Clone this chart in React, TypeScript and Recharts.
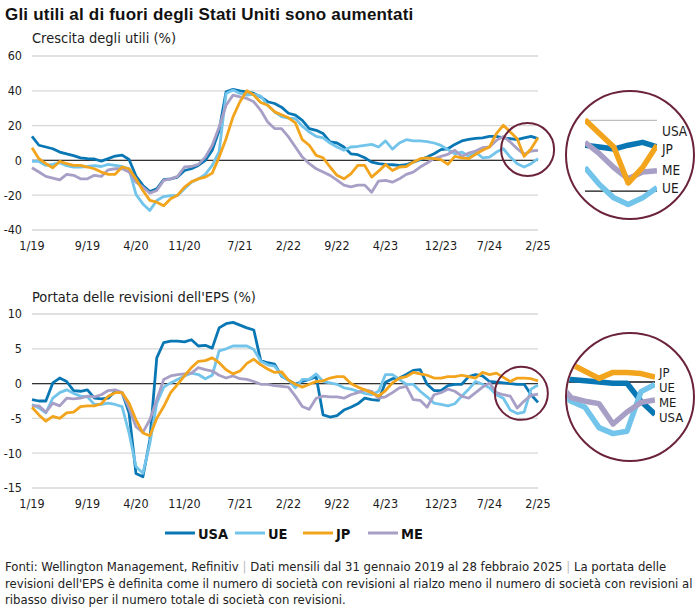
import React from 'react';
import { LineChart, Line, XAxis, YAxis, CartesianGrid, ReferenceLine, ReferenceDot } from 'recharts';

const NARROW = "'Liberation Sans Narrow', 'Arial Narrow', 'DejaVu Sans Condensed', sans-serif";
const SANS = "'Liberation Sans', Arial, sans-serif";
const MAROON = '#6b2339';
const INK = '#1c1c1c';

// monthly ticks, Jan 2019 = 0 ... Feb 2025 = 73
const tickMonths = [0, 8, 15, 22, 30, 37, 44, 51, 59, 66, 73];
const tickLabels = ['1/19', '9/19', '4/20', '11/20', '7/21', '2/22', '9/22', '4/23', '12/23', '7/24', '2/25'];

const growthTicks = [-40, -20, 0, 20, 40, 60];
const revisionTicks = [-15, -10, -5, 0, 5, 10];

// Crescita degli utili (%)
const usaGrowth = [13.8, 8.7, 7.7, 6.7, 4.8, 3.7, 2.7, 1.5, 1.0, 0.8, -0.4, 1.0, 2.5, 3.0, 0.5, -9.0, -14.4, -17.9, -16.3, -11.0, -10.6, -9.6, -5.8, -4.8, -2.9, 0.0, 5.8, 17.3, 39.4, 40.8, 40.0, 39.4, 38.5, 36.5, 33.7, 32.7, 30.6, 27.1, 26.0, 23.0, 18.3, 17.3, 15.4, 10.6, 10.0, 7.7, 3.8, 3.3, 1.5, -1.0, -1.9, -2.3, -2.5, -2.9, -2.5, -1.0, 0.4, 1.9, 3.8, 6.2, 6.7, 9.2, 11.2, 12.1, 12.7, 13.0, 13.8, 13.8, 13.0, 12.5, 11.9, 13.0, 13.8, 12.5];
const ueGrowth = [-0.6, -0.6, -2.9, -2.3, -1.3, -3.0, -3.8, -3.8, -3.5, -3.0, -3.5, -2.3, -2.9, -3.5, -4.8, -19.5, -25.0, -28.8, -23.0, -20.8, -20.2, -20.2, -16.3, -12.5, -10.6, -8.0, -2.9, 5.0, 38.5, 40.4, 38.5, 37.5, 38.0, 37.0, 31.7, 27.9, 25.2, 24.3, 24.0, 19.6, 16.3, 13.8, 12.9, 10.0, 7.7, 5.8, 7.7, 8.0, 8.6, 9.2, 7.7, 11.2, 6.5, 10.0, 11.9, 11.2, 11.2, 10.8, 10.0, 8.6, 6.2, 3.8, 4.8, 2.3, 4.8, 1.5, 1.9, 4.8, 6.7, 1.9, -1.9, -3.8, -1.9, 1.0];
const jpGrowth = [7.3, 1.0, -1.9, -4.2, -0.6, -1.9, -2.9, -2.9, -3.8, -4.8, -6.7, -8.0, -8.0, -3.8, -4.8, -10.6, -17.3, -23.0, -24.0, -26.0, -22.0, -20.0, -15.4, -12.3, -10.6, -9.6, -7.3, 1.9, 12.5, 25.0, 33.7, 40.0, 37.5, 33.3, 31.7, 27.9, 26.2, 24.5, 21.5, 11.9, 8.7, 2.9, 1.5, -3.8, -8.6, -10.6, -7.7, -2.9, -2.9, -9.6, -6.2, -2.3, -5.8, -3.8, -3.5, -1.0, 1.0, 1.5, 1.0, 0.4, -2.3, 2.3, 1.5, 1.0, 3.5, 5.8, 7.7, 15.4, 20.2, 16.3, 12.5, 2.3, 6.7, 13.0];
const meGrowth = [-4.2, -6.7, -9.2, -10.2, -11.2, -8.0, -8.6, -10.6, -10.6, -8.6, -9.2, -5.4, -4.8, -4.8, -6.7, -12.5, -15.4, -18.8, -17.3, -11.5, -10.6, -9.2, -3.8, -3.5, -2.3, 1.9, 8.7, 19.2, 31.7, 37.5, 36.5, 35.6, 33.7, 28.8, 22.1, 18.3, 18.3, 13.5, 7.7, 1.9, -1.9, -4.8, -6.7, -8.6, -11.3, -14.2, -15.2, -14.2, -14.2, -18.3, -11.9, -11.5, -12.5, -10.6, -8.0, -6.7, -3.8, -1.5, 1.0, 2.3, 3.5, 5.8, 2.3, 4.2, 5.4, 7.3, 7.7, 11.5, 13.8, 10.6, 6.7, 3.5, 5.4, 5.8];

// Portata delle revisioni dell'EPS (%)
const usaRevision = [-2.3, -2.5, -2.5, 0.1, 0.8, 0.3, -1.0, -1.1, -0.9, -2.1, -2.2, -2.1, -1.1, -1.3, -4.2, -12.9, -13.4, -8.1, 3.7, 5.9, 6.1, 6.1, 6.0, 6.3, 5.4, 5.5, 5.1, 8.0, 8.6, 8.8, 8.4, 8.0, 7.7, 3.3, 3.0, 2.8, 1.1, 0.5, -0.1, 0.3, 0.6, 1.0, -4.5, -4.8, -4.6, -3.8, -3.4, -2.9, -2.1, -2.3, -2.4, 0.2, 0.7, 0.8, 1.3, 1.9, 2.0, -0.1, -1.0, -1.0, -0.3, -0.1, -0.1, 1.0, 1.3, 1.1, 0.3, 0.2, 0.1, 0.0, -0.1, -0.1, -1.6, -2.7];
const ueRevision = [-3.0, -3.5, -4.2, -2.1, -1.3, -0.9, -1.4, -1.8, -1.9, -3.0, -3.0, -2.8, -3.0, -3.3, -7.1, -11.9, -12.9, -8.6, -2.8, -0.5, 0.1, 0.6, 1.1, 1.5, 1.3, 0.7, 1.2, 4.7, 5.0, 5.4, 5.4, 5.4, 4.9, 3.2, 2.7, 2.5, 1.2, 0.5, -0.6, 0.6, 0.6, 1.4, 0.3, 0.1, -0.1, -0.6, -0.8, -1.1, -1.4, -1.6, -1.1, 1.3, 1.3, 0.6, -0.1, -0.1, -1.1, -1.9, -2.8, -3.0, -3.2, -2.9, -1.8, -0.8, 0.3, -0.1, -0.6, -1.6, -2.1, -3.8, -4.3, -4.1, -0.8, -0.2];
const jpRevision = [-3.4, -4.5, -5.4, -4.7, -5.0, -4.2, -4.1, -3.3, -3.2, -3.2, -2.9, -1.8, -1.3, -1.3, -2.8, -5.2, -7.1, -7.5, -5.0, -3.3, -1.3, -0.1, 1.1, 2.3, 3.2, 3.3, 3.7, 3.0, 2.0, 1.4, 1.8, 2.9, 3.5, 2.7, 2.1, 1.6, 1.7, 0.5, -0.1, -0.5, -0.1, 0.3, 0.4, 0.8, 1.0, 1.0, 0.0, -0.5, -0.9, -1.3, -1.8, -1.0, 0.1, 0.8, 1.0, 1.6, 1.4, 1.2, 0.8, 0.8, 1.0, 1.0, 1.2, 1.0, 0.8, 1.6, 1.3, 1.5, 0.9, 0.3, 0.8, 0.8, 0.7, 0.4];
const meRevision = [-3.2, -3.2, -4.1, -2.8, -3.2, -2.1, -2.2, -2.1, -1.8, -1.9, -1.6, -1.0, -0.9, -1.3, -3.5, -6.2, -7.0, -5.2, -2.3, 0.6, 1.1, 1.3, 1.4, 1.5, 2.3, 2.0, 1.8, 1.2, 0.8, 1.1, 0.7, 0.6, 0.3, -0.1, -0.1, -0.3, -0.4, -0.5, -1.8, -3.3, -3.7, -2.1, -1.8, -1.9, -1.9, -2.1, -1.6, -1.3, -0.9, -1.1, -2.1, -1.9, -1.3, -0.6, -0.4, -2.3, -2.4, -3.4, -1.6, -1.3, -0.8, -1.1, -1.8, -2.1, -1.3, -0.5, 0.1, -1.3, -1.6, -1.8, -3.5, -2.5, -1.7, -1.5];

const series = [
  { key: 'usa', name: 'USA', color: '#0a77b5' },
  { key: 'ue', name: 'UE', color: '#72c4ea' },
  { key: 'me', name: 'ME', color: '#a89fc6' },
  { key: 'jp', name: 'JP', color: '#f2a41c' },
];
const legendOrder = ['usa', 'ue', 'jp', 'me'];

const buildRows = (usa: number[], ue: number[], jp: number[], me: number[]) =>
  usa.map((v, i) => ({ i, usa: v, ue: ue[i], jp: jp[i], me: me[i] }));

const growthRows = buildRows(usaGrowth, ueGrowth, jpGrowth, meGrowth);
const revisionRows = buildRows(usaRevision, ueRevision, jpRevision, meRevision);

const tickStyle = { fontSize: 12.5, fill: INK, fontFamily: NARROW };

interface PanelProps {
  rows: any[];
  top: number;
  ticks: number[];
  focus: { x: number; y: number };
}

const Panel: React.FC<PanelProps> = ({ rows, top, ticks, focus }) => (
  <div style={{ position: 'absolute', left: 0, top }}>
    <LineChart width={560} height={260} data={rows} margin={{ top: 56, right: 22, bottom: 0, left: 0 }}>
      <CartesianGrid vertical={false} stroke="#d7d7d7" strokeWidth={1.3} />
      <XAxis
        dataKey="i"
        type="number"
        domain={[0, 73]}
        ticks={tickMonths}
        interval={0}
        tickFormatter={(v: number) => tickLabels[tickMonths.indexOf(v)]}
        axisLine={false}
        tickLine={false}
        tickMargin={5}
        height={30}
        tick={tickStyle}
      />
      <YAxis
        type="number"
        domain={[ticks[0], ticks[ticks.length - 1]]}
        ticks={ticks}
        interval={0}
        width={32}
        axisLine={false}
        tickLine={false}
        tickMargin={4}
        tick={tickStyle}
      />
      <ReferenceLine y={0} stroke="#333" strokeWidth={1.2} />
      {series.map(s => (
        <Line
          key={s.key}
          dataKey={s.key}
          stroke={s.color}
          strokeWidth={2.8}
          strokeLinejoin="round"
          dot={false}
          isAnimationActive={false}
        />
      ))}
      <ReferenceDot x={focus.x} y={focus.y} r={26.5} fill="none" stroke={MAROON} strokeWidth={2} ifOverflow="visible" />
    </LineChart>
  </div>
);

interface InsetProps {
  rows: any[];
  top: number;
  plot: { left: number; top: number; width: number; height: number };
  xDomain: [number, number];
  yDomain: [number, number];
  gridAt?: number;
}

// magnified view of the last months, clipped to a circle
const Inset: React.FC<InsetProps> = ({ rows, top, plot, xDomain, yDomain, gridAt }) => (
  <div
    style={{
      position: 'absolute',
      left: 565,
      top,
      width: 130,
      height: 130,
      boxSizing: 'border-box',
      border: `2px solid ${MAROON}`,
      borderRadius: '50%',
      overflow: 'hidden',
    }}
  >
    <div style={{ position: 'absolute', left: plot.left - 567, top: plot.top - top - 2 }}>
      <LineChart width={plot.width} height={plot.height} data={rows} margin={{ top: 0, right: 0, bottom: 0, left: 0 }}>
        <XAxis dataKey="i" type="number" domain={xDomain} hide />
        <YAxis type="number" domain={yDomain} hide />
        {gridAt !== undefined && <ReferenceLine y={gridAt} stroke="#bdbdbd" strokeWidth={1.3} />}
        <ReferenceLine y={0} stroke="#111" strokeWidth={1.3} />
        {series.map(s => (
          <Line
            key={s.key}
            dataKey={s.key}
            stroke={s.color}
            strokeWidth={5.5}
            strokeLinejoin="round"
            dot={false}
            isAnimationActive={false}
          />
        ))}
      </LineChart>
    </div>
  </div>
);

const topLabels = [
  { t: 'USA', y: 136 },
  { t: 'JP', y: 154 },
  { t: 'ME', y: 175 },
  { t: 'UE', y: 193 },
];
const bottomLabels = [
  { t: 'JP', y: 376.5 },
  { t: 'UE', y: 391.5 },
  { t: 'ME', y: 406.5 },
  { t: 'USA', y: 421.5 },
];

const Sep = () => <tspan fill="#bbb">{'  |  '}</tspan>;

export default function App() {
  const legendX = [165, 235, 303, 368];
  return (
    <div style={{ position: 'absolute', left: 0, top: 0, width: 700, height: 611, background: '#fff', overflow: 'hidden' }}>
      <Panel rows={growthRows} top={0} ticks={growthTicks} focus={{ x: 71.5, y: 6.3 }} />
      <Panel rows={revisionRows} top={258.3} ticks={revisionTicks} focus={{ x: 70.6, y: -1.4 }} />

      <Inset
        rows={growthRows.slice(68)}
        top={90}
        plot={{ left: 585, top: 100.6, width: 72, height: 109.6 }}
        xDomain={[68, 73]}
        yDomain={[-5.5, 25.5]}
        gridAt={20}
      />
      <Inset
        rows={revisionRows.slice(66)}
        top={332}
        plot={{ left: 557, top: 340, width: 98, height: 114 }}
        xDomain={[66, 73]}
        yDomain={[-6, 3.5]}
      />

      <svg width={700} height={611} style={{ position: 'absolute', left: 0, top: 0, pointerEvents: 'none' }}>
        <text x={5} y={20} fontFamily={SANS} fontWeight={700} fontSize={17} letterSpacing={0.2} fill="#111">
          Gli utili al di fuori degli Stati Uniti sono aumentati
        </text>
        <text x={32} y={43} fontFamily={NARROW} fontSize={14.5} fill={INK}>Crescita degli utili (%)</text>
        <text x={32} y={302} fontFamily={NARROW} fontSize={14.5} fill={INK}>Portata delle revisioni dell'EPS (%)</text>

        {topLabels.map(l => (
          <text key={'t' + l.t} x={662} y={l.y} fontFamily={NARROW} fontSize={13.5} fill={INK}>{l.t}</text>
        ))}
        {bottomLabels.map(l => (
          <text key={'b' + l.t} x={659} y={l.y} fontFamily={NARROW} fontSize={13} fill={INK}>{l.t}</text>
        ))}

        {legendOrder.map((k, n) => {
          const s = series.find(d => d.key === k)!;
          return (
            <g key={k}>
              <line x1={legendX[n]} x2={legendX[n] + 30} y1={533} y2={533} stroke={s.color} strokeWidth={3} />
              <text x={legendX[n] + 33} y={538.5} fontFamily={NARROW} fontWeight={700} fontSize={14.5} fill="#111">{s.name}</text>
            </g>
          );
        })}

        <g fontFamily={NARROW} fontSize={13} fill="#222">
          <text x={5} y={571}>
            Fonti: Wellington Management, Refinitiv<Sep />Dati mensili dal 31 gennaio 2019 al 28 febbraio 2025<Sep />La portata delle
          </text>
          <text x={5} y={588}>
            revisioni dell'EPS è definita come il numero di società con revisioni al rialzo meno il numero di società con revisioni al
          </text>
          <text x={5} y={604}>ribasso diviso per il numero totale di società con revisioni.</text>
        </g>
      </svg>
    </div>
  );
}
